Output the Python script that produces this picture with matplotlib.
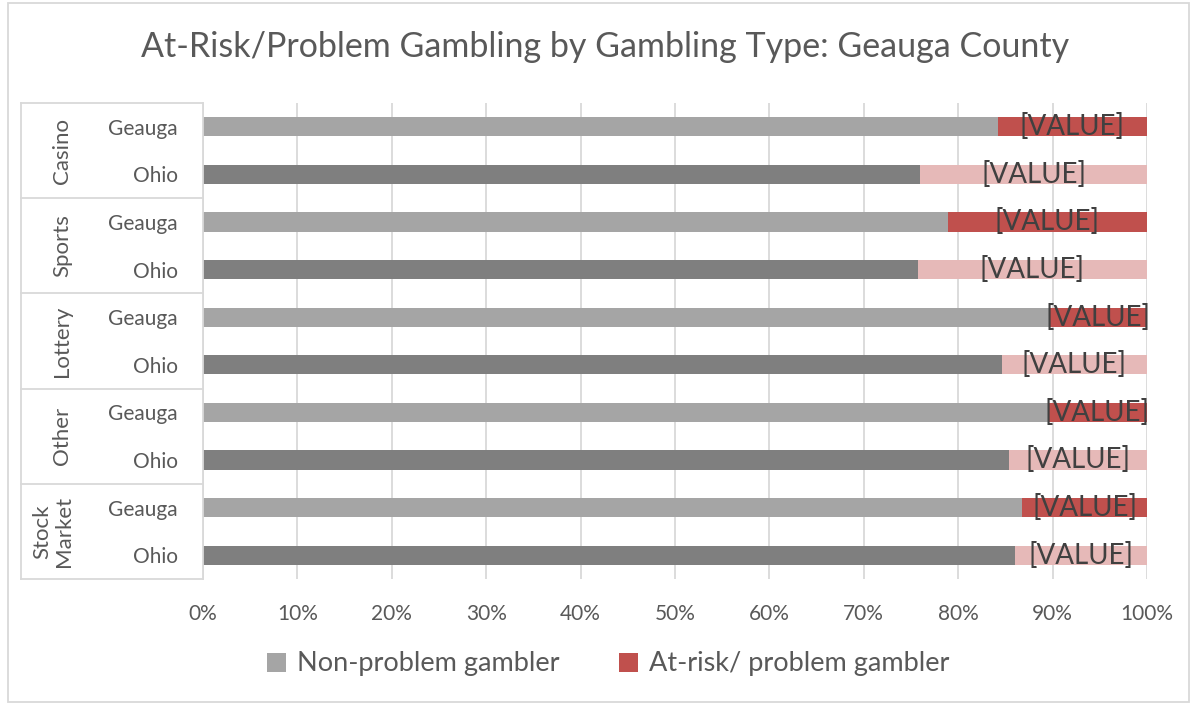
import matplotlib
matplotlib.use("Agg")
import matplotlib.pyplot as plt
from matplotlib.patches import Rectangle

plt.rcParams['font.family'] = ['Lato', 'DejaVu Sans']

groups = ["Casino", "Sports", "Lottery", "Other", "Stock\nMarket"]
regions = ["Geauga", "Ohio"]
non_problem = [84.2, 76.0, 78.9, 75.7, 89.7, 84.6, 89.5, 85.4, 86.8, 86.0]
at_risk = [100 - v for v in non_problem]
value_label = "[VALUE]"
xticks = [0, 10, 20, 30, 40, 50, 60, 70, 80, 90, 100]
title = "At-Risk/Problem Gambling by Gambling Type: Geauga County"
series_names = ["Non-problem gambler", "At-risk/ problem gambler"]

W, H = 1193, 704
fig = plt.figure(figsize=(W / 100, H / 100), dpi=100)
x0, x1, y0, y1 = 203, 1147, 103, 579
ax = fig.add_axes([x0 / W, 1 - y1 / H, (x1 - x0) / W, (y1 - y0) / H])

n = len(non_problem)
ypos = list(range(n))
c_np = ["#A5A5A5" if i % 2 == 0 else "#7F7F7F" for i in range(n)]
c_ar = ["#C0504D" if i % 2 == 0 else "#E6B9B8" for i in range(n)]

ax.barh(ypos, non_problem, height=0.4, color=c_np, label=series_names[0], zorder=2)
ax.barh(ypos, at_risk, left=non_problem, height=0.4, color=c_ar, label=series_names[1], zorder=2)

for i in range(n):
    ax.text(non_problem[i] + at_risk[i] / 2, ypos[i], value_label, ha="center", va="center",
            fontsize=20, color="#404040", zorder=3)

ax.set_xlim(0, 100)
ax.set_ylim(n - 0.5, -0.5)
ax.set_xticks(xticks)
ax.set_xticklabels([f"{t}%" for t in xticks])
ax.set_yticks(ypos)
ax.set_yticklabels([regions[i % 2] for i in range(n)])
ax.tick_params(axis="y", length=0, pad=18, labelsize=15, labelcolor="#595959")
ax.tick_params(axis="x", length=0, pad=18, labelsize=15, labelcolor="#595959")
for s in ax.spines.values():
    s.set_visible(False)
ax.grid(axis="x", color="#D9D9D9", linewidth=1.3, zorder=0)
ax.set_axisbelow(True)

# group box lines
trans = ax.get_yaxis_transform()
xl = (21 - x0) / (x1 - x0)
line_kw = dict(color="#D9D9D9", linewidth=1.3, transform=trans, clip_on=False)
for k in range(len(groups) + 1):
    yb = k * 2 - 0.5
    ax.plot([xl, 0], [yb, yb], **line_kw)
ax.plot([xl, xl], [-0.5, n - 0.5], **line_kw)
ax.plot([0, 0], [-0.5, n - 0.5], **line_kw)
for k, g in enumerate(groups):
    xg = ((53 if "\n" in g else 62) - x0) / (x1 - x0)
    ax.text(xg, k * 2 + 0.5, g, rotation=90, ha="center", va="center", transform=trans,
            fontsize=16, color="#595959", linespacing=1.1)

fig.suptitle(title, x=0.5 + 9 / W, y=1 - 47 / H, va="center", fontsize=24.5, color="#595959")

leg = fig.legend(loc="center", bbox_to_anchor=(0.5 + 12 / W, 1 - 664 / H), ncol=2, frameon=False,
                 fontsize=19.5, handlelength=0.7, handleheight=0.7, handletextpad=0.4,
                 columnspacing=2.2, labelcolor="#595959")

fig.patches.append(Rectangle((8 / W, 2 / H), (W - 12) / W, (H - 5) / H, transform=fig.transFigure,
                             fill=False, edgecolor="#D9D9D9", linewidth=1.3))

fig.savefig("out.png", dpi=100)
